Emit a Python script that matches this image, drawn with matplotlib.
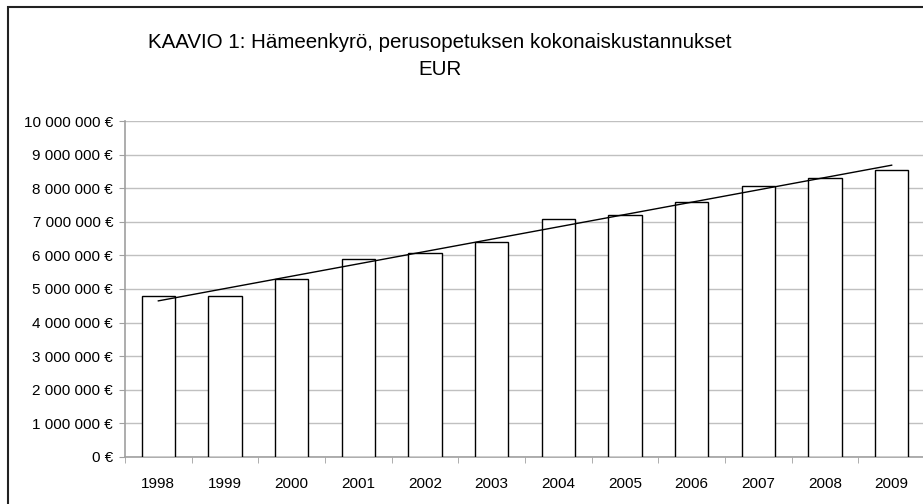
import numpy as np
import matplotlib
matplotlib.use("Agg")
import matplotlib.pyplot as plt
from matplotlib.patches import Rectangle
from matplotlib.ticker import FuncFormatter, MultipleLocator

plt.rcParams['font.family'] = ['Liberation Sans', 'DejaVu Sans']

years = ['1998', '1999', '2000', '2001', '2002', '2003',
         '2004', '2005', '2006', '2007', '2008', '2009']
costs = [4780000, 4780000, 5290000, 5900000, 6060000, 6410000,
         7070000, 7210000, 7580000, 8080000, 8290000, 8540000]

title = 'KAAVIO 1: Hämeenkyrö, perusopetuksen kokonaiskustannukset\nEUR'


def eur(v, pos):
    return '{:,.0f} €'.format(v).replace(',', ' ')


fig = plt.figure(figsize=(9.23, 5.04), dpi=100)
W, H = 923, 504

# outer chart border (cut off on the right and bottom like the reference)
fig.patches.append(Rectangle((8 / W, -0.1), 1.2, (H - 7) / H + 0.1,
                             transform=fig.transFigure, fill=False,
                             edgecolor='#222222', lw=1.5))

ax = fig.add_axes([125 / W, (H - 457) / H, 800 / W, 336 / H])

x = np.arange(len(years))
ax.bar(x, costs, width=0.5, color='white', edgecolor='black', lw=1, zorder=3)

# linear trend line
k, b = np.polyfit(x, costs, 1)
ax.plot(x, k * x + b, color='black', lw=1, zorder=4)

ax.set_xlim(-0.5, len(years) - 0.5)
ax.set_ylim(0, 10000000)
ax.yaxis.set_major_locator(MultipleLocator(1000000))
ax.yaxis.set_major_formatter(FuncFormatter(eur))
ax.grid(axis='y', color='#c0c0c0', lw=1, zorder=0)

ax.set_xticks(x)
ax.set_xticklabels(years)
ax.set_xticks(np.arange(-0.5, len(years), 1), minor=True)
ax.tick_params(axis='x', which='major', length=0, pad=14.5, labelsize=11)
ax.tick_params(axis='x', which='minor', length=4, color='#a0a0a0', direction='out')
ax.tick_params(axis='y', length=4.5, color='#a0a0a0', pad=4, labelsize=11)

for s in ['top', 'right']:
    ax.spines[s].set_visible(False)
for s in ['left', 'bottom']:
    ax.spines[s].set_color('#a0a0a0')
    ax.spines[s].set_linewidth(1.2)

fig.text(440 / W, 1 - 56 / H, title, ha='center', va='center',
         fontsize=14.8, linespacing=1.55)

fig.savefig('out.png', dpi=100)
